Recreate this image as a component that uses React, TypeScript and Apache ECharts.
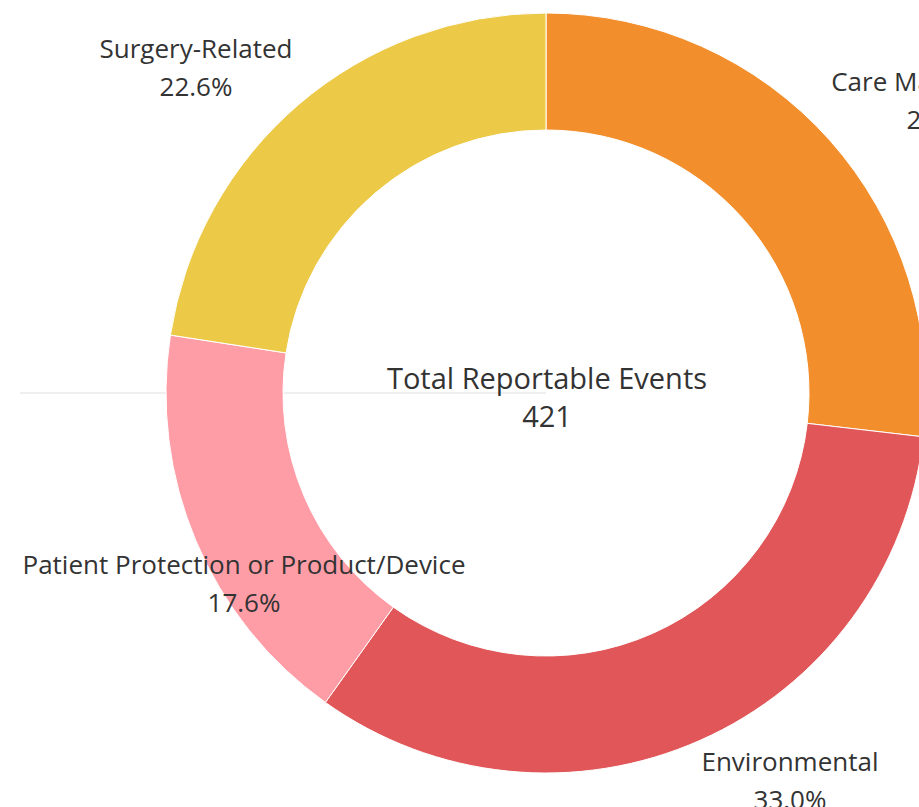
import React, { useEffect, useRef } from "react";
import * as echarts from "echarts";

const categories = ["Care Management", "Environmental", "Patient Protection or Product/Device", "Surgery-Related"];
const counts = [113, 139, 74, 95];
const colors = ["#F28E2B", "#E15759", "#FF9DA7", "#EDC948"];
const centerTitle = "Total Reportable Events";
const total = counts.reduce((a, b) => a + b, 0);

// label placement (layout only)
const labelPos: [number, number][] = [
  [943, 100],
  [790, 780],
  [244, 583],
  [196, 67],
];

const FONT = "'Open Sans', 'Noto Sans', sans-serif";

export default function App() {
  const ref = useRef<HTMLDivElement>(null);
  useEffect(() => {
    document.body.style.margin = "0";
    const chart = echarts.init(ref.current!, null, { renderer: "svg" });
    chart.setOption({
      animation: false,
      backgroundColor: "#ffffff",
      graphic: [
        {
          type: "line",
          z: -10,
          silent: true,
          shape: { x1: 20, y1: 393, x2: 546, y2: 393 },
          style: { stroke: "#efefef", lineWidth: 2 },
        },
        {
          type: "text",
          z: 10,
          x: 547,
          y: 396,
          style: {
            text: centerTitle + "\n" + total,
            align: "center",
            verticalAlign: "middle",
            fontFamily: FONT,
            fontSize: 29,
            lineHeight: 38,
            fill: "#333333",
          },
        },
      ],
      series: [
        {
          type: "pie",
          center: [546, 393],
          radius: [263, 380],
          startAngle: 90,
          clockwise: true,
          percentPrecision: 1,
          itemStyle: { borderColor: "#ffffff", borderWidth: 1 },
          label: {
            show: true,
            position: "outside",
            formatter: (p: any) => p.name + "\n" + p.percent.toFixed(1) + "%",
            fontFamily: FONT,
            fontSize: 26,
            lineHeight: 38,
            color: "#333333",
            align: "center",
            overflow: "none",
          },
          labelLine: { show: false },
          labelLayout: (params: any) => {
            const p = labelPos[params.dataIndex];
            return { x: p[0], y: p[1], align: "center", verticalAlign: "middle", hideOverlap: false };
          },
          emphasis: { disabled: true },
          data: categories.map((c, i) => ({
            name: c,
            value: counts[i],
            itemStyle: { color: colors[i] },
          })),
        },
      ],
    });
    return () => chart.dispose();
  }, []);
  return <div ref={ref} style={{ width: 919, height: 807 }} />;
}
